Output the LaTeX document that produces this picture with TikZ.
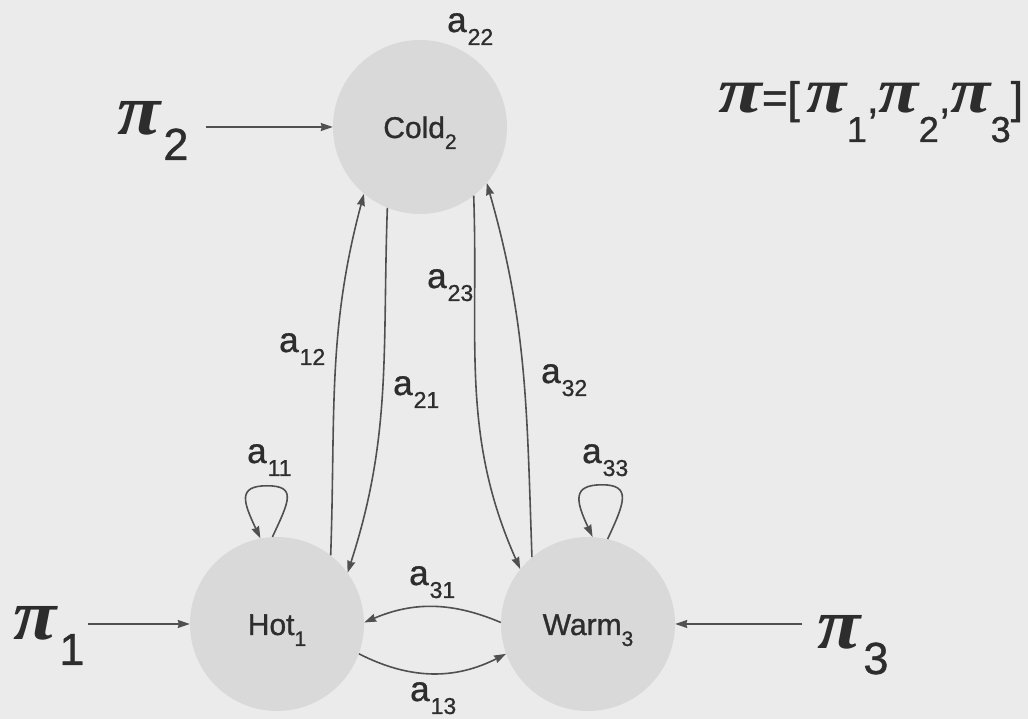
\documentclass[tikz,border=0pt]{standalone}
\usepackage{graphicx}
\usepackage{fontspec}
\setmainfont{Liberation Sans}[FakeBold=1]
\newfontfamily\pifont{Liberation Serif}
\usetikzlibrary{arrows.meta}

% text at a given size
\newcommand\fsz[2]{{\fontsize{#1}{#1}\selectfont #2}}
% transition label a_ij
\newcommand\trans[1]{\fsz{35}{a}\kern1pt\raisebox{-13pt}{\fsz{23}{#1}}}
% state name with its index
\newcommand\stname[2]{\fsz{30}{#1}\raisebox{-11pt}{\fsz{21}{#2}}}
% bold italic pi, size and horizontal stretch
\newcommand\pisym[2]{\scalebox{#2}[1]{\fontsize{#1}{#1}\pifont\bfseries\itshape π}}
% initial probability pi_i (big, beside the arrows)
\newcommand\prior[1]{\pisym{72}{1.1}\kern3pt\raisebox{-25pt}{\fsz{45}{#1}}}
% pi_i inside the vector
\newcommand\pisub[1]{\pisym{64}{1.15}\raisebox{-29pt}{\fsz{36}{#1}}}

\begin{document}
\begin{tikzpicture}[x=1pt,y=1pt,>={Stealth[length=12pt,width=8pt,inset=1pt]}]
	%---------------- Colors & styles ----------------
	\definecolor{paper}{RGB}{235,235,235}
	\definecolor{bubble}{RGB}{217,217,217}
	\definecolor{ink}{RGB}{45,45,45}
	\definecolor{wire}{RGB}{80,80,80}
	\tikzset{
		hmmstate/.style={circle, fill=bubble, minimum size=174pt, inner sep=0pt,
			text=ink, text height=22pt, text depth=0pt}, % state discs
		flow/.style={->, wire, line width=1.6pt},           % transitions
		tag/.style={anchor=base west, inner sep=0pt, text=ink}, % labels
	}
	
	%---------------- Canvas ----------------
	\fill[paper] (0,0) rectangle (1028,719);
	\useasboundingbox (0,0) rectangle (1028,719);
	
	%---------------- States ----------------
	\node[hmmstate] (cold) at (420,592) {\stname{Cold}{2}};
	\node[hmmstate] (hot)  at (277,95)  {\stname{Hot}{1}};
	\node[hmmstate] (warm) at (588,95)  {\stname{Warm}{3}};
	
	%---------------- Transitions between states ----------------
	\draw[flow] (hot.52)   to[out=88,in=255]  (cold.230); % a12
	\draw[flow] (cold.248) to[out=268,in=72]  (hot.36);   % a21
	\draw[flow] (cold.308) to[out=272,in=114] (warm.141); % a23
	\draw[flow] (warm.130) to[out=92,in=286]  (cold.320); % a32
	\draw[flow] (warm.179) to[bend right=23]  (hot.1);    % a31
	\draw[flow] (hot.340)  to[bend right=27]  (warm.200); % a13
	
	%---------------- Self loops ----------------
	\coordinate (hottop)  at ([xshift=-10pt,yshift=51pt]hot.north);
	\coordinate (warmtop) at ([xshift=14pt,yshift=52pt]warm.north);
	\draw[flow] (hot.93) .. controls +(65:40) and +(0:30) .. (hottop)
	.. controls +(180:30) and +(115:40) .. (hot.101);
	\draw[flow] (warm.77) .. controls +(65:40) and +(0:30) .. (warmtop)
	.. controls +(180:30) and +(115:40) .. (warm.87);
	
	%---------------- Transition labels ----------------
	\node[tag] (t11) at (247,256) {\trans{11}};
	\node[tag] (t12) at (279,367) {\trans{12}};
	\node[tag] (t13) at (410,18)  {\trans{13}};
	\node[tag] (t21) at (393,324) {\trans{21}};
	\node[tag] (t22) at (447,687) {\trans{22}};
	\node[tag] (t23) at (427,431) {\trans{23}};
	\node[tag] (t31) at (409,134) {\trans{31}};
	\node[tag] (t32) at (541,336) {\trans{32}};
	\node[tag] (t33) at (582,256) {\trans{33}};
	
	%---------------- Initial probabilities ----------------
	\node[tag] (pione)   at (13,79)   {\prior{1}};
	\node[tag] (pitwo)   at (117,584) {\prior{2}};
	\node[tag] (pithree) at (817,70)  {\prior{3}};
	\node[tag] (pivec)   at (718,606)
	{\pisym{64}{1.25}\fsz{44}{=[}\kern7pt\pisub{1}\fsz{42}{,}\pisub{2}\fsz{42}{,}\pisub{3}\fsz{44}{]}};
	
	\draw[flow, shorten <=3pt]  (pione.east |- hot.west)   -- (hot.west);
	\draw[flow, shorten <=17pt] (pitwo.east |- cold.west)  -- (cold.west);
	\draw[flow, shorten <=15pt] (pithree.west |- warm.east) -- (warm.east);
\end{tikzpicture}
\end{document}
